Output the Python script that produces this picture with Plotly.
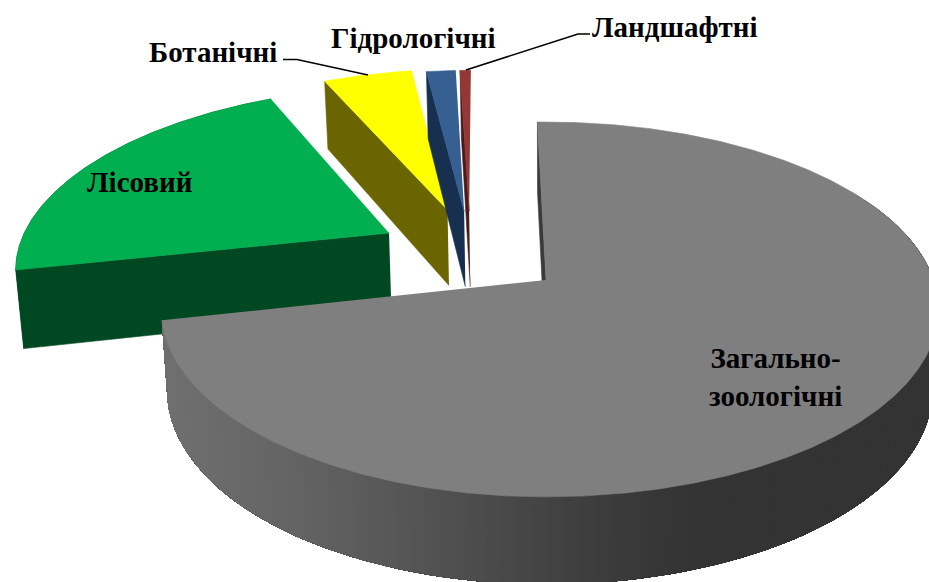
import numpy as np
import plotly.graph_objects as go

# --- data (percent of total, clockwise order) ---
categories = ["Загально-зоологічні", "Лісовий", "Ботанічні", "Гідрологічні", "Ландшафтні"]
values = [72.0, 21.4, 4.55, 1.5, 0.55]
top_colors = ["#7F7F7F", "#02AF50", "#FFFF00", "#376092", "#953735"]
wall_colors = ["#3A3A3A", "#004822", "#6B6500", "#17304F", "#4A1B1A"]
# position of each slice tip on the pie plane (explosion), in radii
explode_u = [0.0, -0.4305, -0.2758, -0.229, -0.215]
explode_v = [0.0, 0.268, 0.4075, 0.40, 0.40]

# --- view parameters ---
START_DEG = -1.5
CX, CY, RX, RY, K = 546.0, 280.0, 380.0, 182.8, 0.157
RIGHT_STRETCH = 1.02
T0, T1, SHRINK = 79.0, 8.5, 0.985

def top_pt(u, v):
    s = 1.0 / (1.0 + K * v)
    stretch = RIGHT_STRETCH if u > 0 else 1.0
    return CX + RX * stretch * u * s, CY - RY * v * s

def bot_pt(u, v):
    x, y = top_pt(u, v)
    return CX + SHRINK * (x - CX), y + T0 - T1 * v

def grey_at(x):
    g = np.interp(x, [165, 300, 450, 620, 700], [112, 99, 80, 58, 51])
    g = int(round(float(g)))
    return f"rgb({g},{g},{g})"

fig = go.Figure()

def poly(xs, ys, color, lw=0.6):
    line = dict(color=color, width=lw) if lw > 0 else dict(color="rgba(0,0,0,0)", width=0)
    fig.add_trace(go.Scatter(x=list(xs), y=list(ys), mode="lines", fill="toself",
                             fillcolor=color, line=line,
                             hoverinfo="skip", showlegend=False))

def wall(pts_a, pts_b, color, lw=0.6):
    xs = [p[0] for p in pts_a] + [p[0] for p in reversed(pts_b)]
    ys = [p[1] for p in pts_a] + [p[1] for p in reversed(pts_b)]
    poly(xs, ys, color, lw)

total = sum(values)
edges = START_DEG + np.cumsum([0] + values) * 360.0 / total
draw_order = [1, 2, 3, 4, 0]
for i in draw_order:
    a0, a1 = edges[i], edges[i + 1]
    th = np.radians(np.linspace(a0, a1, max(8, int((a1 - a0) * 2))))
    du, dv = explode_u[i], explode_v[i]
    us = du + np.sin(th)
    vs = dv + np.cos(th)
    # wall along the first radial edge
    t = np.linspace(0, 1, 12)
    eu = du + t * np.sin(th[0])
    ev = dv + t * np.cos(th[0])
    wall([top_pt(a, b) for a, b in zip(eu, ev)],
         [bot_pt(a, b) for a, b in zip(eu, ev)], wall_colors[i])
    # outer rim wall
    if i == 0:
        # painted from the dark right end to the light left end, each band
        # reaching over to the far end of the rim so that no seams show
        th2 = np.radians(np.linspace(60, a1, 100))
        us2, vs2 = np.sin(th2), np.cos(th2)
        for j in range(len(th2) - 1):
            a = [top_pt(p, q) for p, q in zip(us2[j:], vs2[j:])]
            b = [bot_pt(p, q) for p, q in zip(us2[j:], vs2[j:])]
            wall(a, b, grey_at(0.5 * (b[0][0] + b[1][0])), lw=0)
    elif i == 1:
        wall([top_pt(a, b) for a, b in zip(us, vs)],
             [bot_pt(a, b) for a, b in zip(us, vs)], wall_colors[i])
    # top surface
    pts = [top_pt(du, dv)] + [top_pt(a, b) for a, b in zip(us, vs)]
    poly([p[0] for p in pts], [p[1] for p in pts], top_colors[i])

# leader lines
for lx, ly in [([283, 297, 368], [59.5, 59.5, 75]), ([590, 578, 466], [34, 34, 70])]:
    fig.add_trace(go.Scatter(x=lx, y=ly, mode="lines", line=dict(color="#000000", width=1.6),
                             hoverinfo="skip", showlegend=False))

labels = [("Загально-<br>зоологічні", 775, 377), ("Лісовий", 139, 182), ("Ботанічні", 213, 52),
          ("Гідрологічні", 413, 38), ("Ландшафтні", 675, 27)]
for text, x, y in labels:
    fig.add_annotation(x=x, y=y, text=f"<b>{text}</b>", showarrow=False, align="center",
                       font=dict(family="Liberation Serif", size=29, color="#000000"))

fig.update_xaxes(range=[0, 929], visible=False, fixedrange=True)
fig.update_yaxes(range=[582, 0], visible=False, fixedrange=True)
fig.update_layout(width=929, height=582, margin=dict(l=0, r=0, t=0, b=0),
                  paper_bgcolor="#FFFFFF", plot_bgcolor="#FFFFFF", showlegend=False)
fig.write_html("out.html", config=dict(displayModeBar=False),
               post_script="document.body.style.margin='0';document.body.style.overflow='hidden';")
